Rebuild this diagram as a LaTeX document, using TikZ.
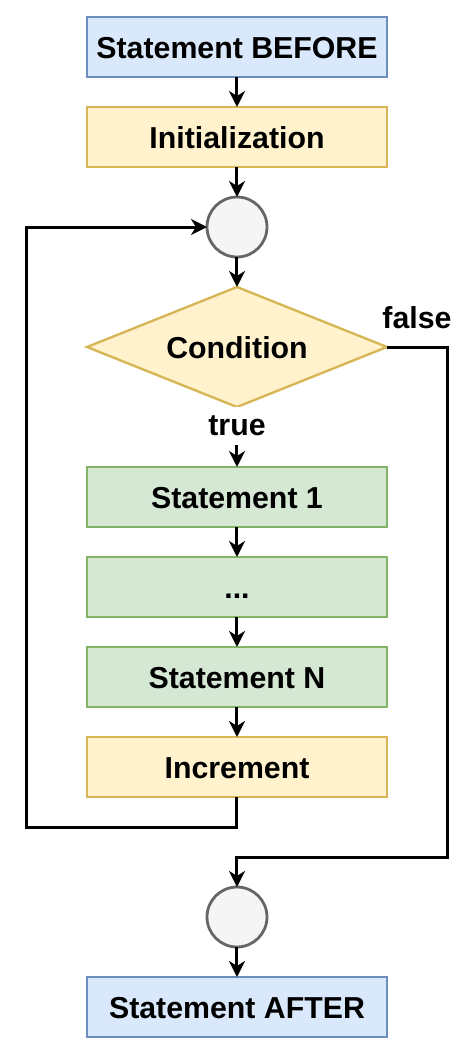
\documentclass[tikz,border=0pt]{standalone}
\usepackage{fontspec}
\setmainfont{Liberation Sans}
\usetikzlibrary{arrows.meta,positioning,shapes.geometric}
\definecolor{blueF}{HTML}{DAE8FC}\definecolor{blueD}{HTML}{6C8EBF}
\definecolor{yelF}{HTML}{FFF2CC}\definecolor{yelD}{HTML}{D6B656}
\definecolor{grnF}{HTML}{D5E8D4}\definecolor{grnD}{HTML}{82B366}
\definecolor{grayF}{HTML}{F5F5F5}\definecolor{grayD}{HTML}{666666}
\begin{document}
\begin{tikzpicture}[
  node distance=30pt,
  font=\fontsize{30.3pt}{36pt}\selectfont\bfseries,
  box/.style={draw,line width=2.4pt,inner sep=0pt,outer sep=0pt,minimum width=300pt,minimum height=60pt,text height=25pt,text depth=2pt,align=center},
  bluebox/.style={box,draw=blueD,fill=blueF},
  yelbox/.style={box,draw=yelD,fill=yelF},
  grnbox/.style={box,draw=grnD,fill=grnF},
  junc/.style={circle,draw=grayD,fill=grayF,line width=2.8pt,minimum size=60pt,inner sep=0pt,outer sep=0pt},
  lbl/.style={inner sep=2pt},
  arr/.style={-{Stealth[length=16pt,width=16pt,inset=5pt]},line width=3pt}
]
\useasboundingbox (-237pt,47pt) rectangle (239pt,-1006pt);
\node[bluebox] (before) {Statement BEFORE};
\node[yelbox, below=of before] (init) {Initialization};
\node[junc, below=of init] (loop) {};
\node[yelbox, diamond, aspect=2.5, minimum width=300pt, minimum height=120pt, below=of loop] (cond) {Condition};
\node[grnbox, below=60pt of cond] (s1) {Statement 1};
\node[grnbox, below=of s1] (dots) {...};
\node[grnbox, below=of dots] (sn) {Statement N};
\node[yelbox, below=of sn] (incr) {Increment};
\node[junc, below=90pt of incr] (exit) {};
\node[bluebox, below=of exit] (after) {Statement AFTER};
\draw[arr] (before) -- (init);
\draw[arr] (init) -- (loop);
\draw[arr] (loop) -- (cond);
\draw[arr] (cond) -- node[lbl, fill=white, minimum height=38pt, yshift=11pt] {true} (s1);
\draw[arr] (s1) -- (dots);
\draw[arr] (dots) -- (sn);
\draw[arr] (sn) -- (incr);
\draw[arr] (incr.south) -- ++(0,-30pt) -| ([xshift=-180pt]loop.west) -- (loop.west);
\draw[arr] (cond.east) -- node[lbl, above=15pt] {false} ++(60pt,0) |- ([yshift=30pt]exit.north) -- (exit.north);
\draw[arr] (exit) -- (after);
\end{tikzpicture}
\end{document}
